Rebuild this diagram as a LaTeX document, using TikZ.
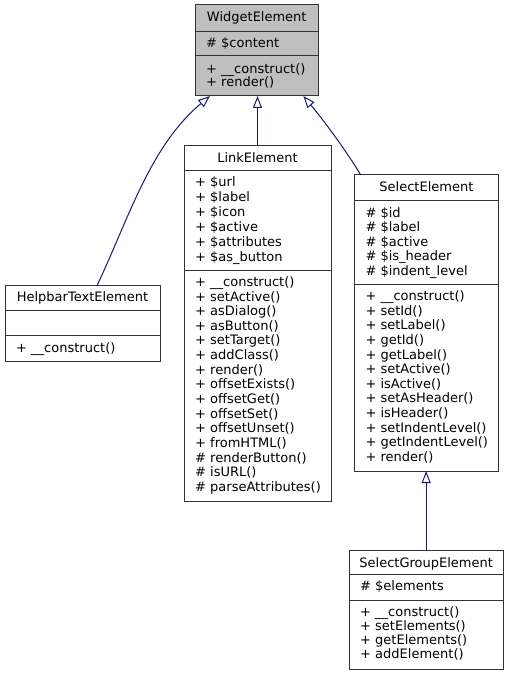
\documentclass[tikz,border=0pt]{standalone}
\usepackage{fontspec}
\setmainfont{DejaVu Sans}
\usetikzlibrary{arrows.meta,calc}
\definecolor{edgeblue}{HTML}{191970}
\definecolor{boxline}{HTML}{333333}
\definecolor{basefill}{HTML}{BFBFBF}
\begin{document}
\begin{tikzpicture}[x=1pt,y=-1pt,
  cls/.style={draw=boxline, line width=1pt, fill=white, inner sep=0pt, outer sep=0pt, anchor=north west},
  sep/.style={draw=boxline, line width=1pt},
  txt/.style={inner sep=0pt, anchor=base west, font=\fontsize{13}{15}\selectfont},
  ttl/.style={inner sep=0pt, anchor=base, font=\fontsize{13}{15}\selectfont},
  edge/.style={draw=edgeblue, line width=1pt, {Triangle[open,length=12pt,width=9pt]}-}
]
\useasboundingbox (0,0) rectangle (509,676);

% ---- WidgetElement
\node[cls, fill=basefill, minimum width=123.5pt, minimum height=91pt] (widget) at (195,5) {};
\draw[sep] (195,31.7) -- (318.5,31.7);
\draw[sep] (195,56) -- (318.5,56);
\node[ttl] (widgetT) at (256.75,21.7) {WidgetElement};
\node[txt] (widgetA1) at (206,47.4) {\# \$content};
\node[txt] (widgetM1) at (206,73.7) {+ \_\_construct()};
\node[txt] (widgetM2) at (206,86.4) {+ render()};

% ---- HelpbarTextElement
\node[cls, minimum width=155pt, minimum height=76pt] (help) at (5,285) {};
\draw[sep] (5,310.7) -- (160,310.7);
\draw[sep] (5,335.7) -- (160,335.7);
\node[ttl] (helpT) at (82.5,301.4) {HelpbarTextElement};
\node[txt] (helpM1) at (16,352.4) {+ \_\_construct()};

% ---- LinkElement
\node[cls, minimum width=147pt, minimum height=355pt] (link) at (184,146) {};
\draw[sep] (184,171) -- (331,171);
\draw[sep] (184,270) -- (331,270);
\node[ttl] (linkT) at (257.5,162.4) {LinkElement};
\foreach \t [count=\i] in {{+ \$url},{+ \$label},{+ \$icon},{+ \$active},{+ \$attributes},{+ \$as\_button}}
  \node[txt] (linkA\i) at (195,{186.7+(\i-1)*14.86}) {\t};
\foreach \t [count=\i] in {{+ \_\_construct()},{+ setActive()},{+ asDialog()},{+ asButton()},{+ setTarget()},{+ addClass()},{+ render()},{+ offsetExists()},{+ offsetGet()},{+ offsetSet()},{+ offsetUnset()},{+ fromHTML()},{\# renderButton()},{\# isURL()},{\# parseAttributes()}}
  \node[txt] (linkM\i) at (195,{286.4+(\i-1)*14.64}) {\t};

% ---- SelectElement
\node[cls, minimum width=144.2pt, minimum height=296pt] (sel) at (354.3,175) {};
\draw[sep] (354.3,200.3) -- (498.5,200.3);
\draw[sep] (354.3,284.3) -- (498.5,284.3);
\node[ttl] (selT) at (426.4,191.4) {SelectElement};
\foreach \t [count=\i] in {{\# \$id},{\# \$label},{\# \$active},{\# \$is\_header},{\# \$indent\_level}}
  \node[txt] (selA\i) at (365.3,{217+(\i-1)*14.5}) {\t};
\foreach \t [count=\i] in {{+ \_\_construct()},{+ setId()},{+ setLabel()},{+ getId()},{+ getLabel()},{+ setActive()},{+ isActive()},{+ setAsHeader()},{+ isHeader()},{+ setIndentLevel()},{+ getIndentLevel()},{+ render()}}
  \node[txt] (selM\i) at (365.3,{300.7+(\i-1)*14.61}) {\t};

% ---- SelectGroupElement
\node[cls, minimum width=154.3pt, minimum height=119.3pt] (sge) at (349,550) {};
\draw[sep] (349,574.3) -- (503.3,574.3);
\draw[sep] (349,600.7) -- (503.3,600.7);
\node[ttl] (sgeT) at (426.2,567.4) {SelectGroupElement};
\node[txt] (sgeA1) at (360,590.7) {\# \$elements};
\foreach \t [count=\i] in {{+ \_\_construct()},{+ setElements()},{+ getElements()},{+ addElement()}}
  \node[txt] (sgeM\i) at (360,{616.4+(\i-1)*14.1}) {\t};

% ---- inheritance edges
\draw[edge] ($(widget.south west)+(15,0)$) .. controls (149.9,146.2) and (128.4,219.3) .. ($(help.north)+(14.8,0)$);
\draw[edge] (link.north |- widget.south) -- (link.north);
\draw[edge] ($(widget.south east)+(-15.2,0)$) .. controls (330,128) and (352,160) .. ($(sel.north west)+(6.4,0)$);
\draw[edge] (sge.north |- sel.south) -- (sge.north);
\end{tikzpicture}
\end{document}
